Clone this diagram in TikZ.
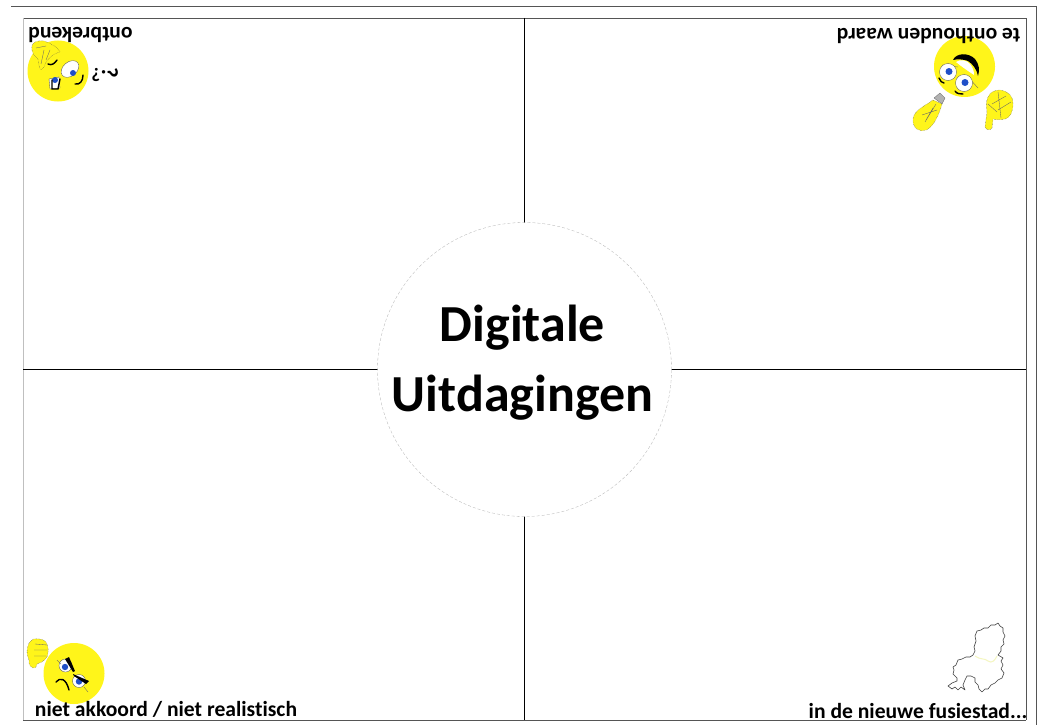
\documentclass[tikz,border=0pt]{standalone}
\usepackage{fontspec}
\setmainfont[Ligatures=CommonOff]{Carlito}
\definecolor{smiley}{HTML}{FFF51A}
\definecolor{eyeblue}{HTML}{1F4FC8}
\definecolor{framegray}{HTML}{555555}
\definecolor{mapyellow}{HTML}{F4F6C0}
\tikzset{
  x=1pt,y=-1pt,
  frameline/.style={draw=framegray,line width=0.9pt},
  axisline/.style={draw=black,line width=0.9pt},
  hubcircle/.style={circle,draw=gray!60,densely dashed,line width=0.3pt,fill=white,minimum size=294pt,inner sep=0pt},
  hubtext/.style={font=\bfseries\fontsize{52}{60}\selectfont,anchor=base,inner sep=0pt},
  cornertext/.style={font=\bfseries\fontsize{21.6}{24}\selectfont,anchor=base,inner sep=0pt},
  face/.style={circle,fill=smiley,minimum size=61pt,inner sep=0pt},
  eyewhite/.style={draw=black!70,line width=0.3pt,fill=white},
  pupil/.style={fill=eyeblue},
  facemark/.style={draw=black,line width=1.4pt,line cap=round},
  handpart/.style={draw=black!70,densely dotted,line width=0.4pt,fill=smiley},
  handline/.style={draw=black!60,line width=0.35pt},
  mapborder/.style={draw=black!75,line width=0.6pt,line join=round},
  qmark/.style={font=\bfseries\fontsize{#1}{#1}\selectfont,inner sep=0pt},
}
\begin{document}
\begin{tikzpicture}
\useasboundingbox (0,0) rectangle (1038,725);
\fill[white] (0,0) rectangle (1038,725);
% frames
\coordinate (ot) at (11,6); \coordinate (otr) at (1036,6); \coordinate (obr) at (1036,725);
\draw[frameline] (ot) -- (otr) -- (obr);
\coordinate (tl) at (23,18); \coordinate (tr) at (1026,18); \coordinate (br) at (1026,720); \coordinate (bl) at (23,720);
\draw[draw=framegray,line width=0.6pt] (tl) -- (tr) -- (br);
\draw[draw=gray!50,line width=0.6pt] (tl) -- (bl);
\draw[frameline] (bl) -- (br);
% axes
\coordinate (vt) at (524,18); \coordinate (vb) at (524,720);
\coordinate (hl) at (23,369); \coordinate (hr) at (1026,369);
\draw[axisline] (vt) -- (vb);
\draw[axisline] (hl) -- (hr);
% hub
\node[hubcircle] (hub) at (524.5,369.5) {};
\node[hubtext] (title1) at (522.5,341) {Digitale};
\node[hubtext] (title2) at (522.5,411) {Uitdagingen};
% top-left face
\node[face] (f1) at (58,71) {};
\draw[eyewhite,rotate around={40:(70,69)}] (70,69) ellipse (10 and 7);
\fill[pupil] (73,73) circle (3);
\path[eyewhite] (49,79) -- (59,77) -- (60,88) -- (50,89) -- cycle;
\fill[pupil] (55,80) circle (3);
\path[handpart] (32,46) .. controls (32,42) and (39,40) .. (44,41) .. controls (50,43) and (58,47) .. (60,52) .. controls (54,53) and (49,58) .. (46,62) .. controls (45,66) and (42,71) .. (40,69) .. controls (38,63) and (39,60) .. (37,58) .. controls (33,55) and (31,50) .. (32,46) -- cycle;
\draw[handline] (44,50) -- (41,64) (50,50) -- (46,60) (36,48) -- (46,46);
\draw[facemark] (48,64) .. controls (52,66) and (55,63) .. (57,60);
\draw[facemark] (52,80) -- (52,89) -- (58,89) -- (60,79);
\draw[facemark] (75,84) .. controls (80,85) and (83,81) .. (83,75);
\node[qmark=19,rotate=180] (q1) at (96,75) {?};
\node[qmark=23,rotate=-90] (q2) at (110,73) {?};
% top-right face
\node[face] (f2) at (964.5,66.5) {};
\path[fill=black] (953,60) .. controls (956,53) and (968,52) .. (975,59) .. controls (979,64) and (980,70) .. (978,76) .. controls (977,70) and (973,64) .. (968,61) .. controls (963,59) and (957,59) .. (953,60) -- cycle;
\path[fill=white] (956,62) .. controls (960,59) and (967,60) .. (970,64) .. controls (973,68) and (974,71) .. (974,75) .. controls (968,71) and (962,67) .. (956,62) -- cycle;
\draw[handline] (942,65) -- (958,67) (968,77) -- (978,88);
\draw[eyewhite] (948,72) circle (8.5);
\fill[pupil] (949,71.5) circle (3.5);
\draw[eyewhite] (964,83) circle (8.5);
\fill[pupil] (965,82.5) circle (3.5);
\draw[facemark] (939,78) .. controls (940,81) and (942,83) .. (944,83);
\draw[facemark] (955,91) .. controls (957,94) and (960,94) .. (963,94);
\path[handpart] (933,100) .. controls (925,106) and (914,110) .. (913,119) .. controls (912,128) and (920,133) .. (926,130) .. controls (932,128) and (938,118) .. (942,104) -- cycle;
\path[fill=gray!60,draw=black!60,line width=0.3pt] (934,98) -- (940,93) -- (945,98) -- (942,104) -- cycle;
\draw[handline] (936,104) -- (925,122) (933,108) -- (926,120) (937,110) -- (922,115);
\path[handpart] (985,127) -- (987,112) .. controls (986,106) and (986,101) .. (988,97) .. controls (990,92) and (995,90) .. (1000,90) .. controls (1008,91) and (1014,97) .. (1013,104) .. controls (1013,112) and (1010,118) .. (1005,119) .. controls (1001,120) and (996,120) .. (993,119) -- (992,128) .. controls (990,131) and (986,130) .. (985,127) -- cycle;
\draw[handline] (998,92) -- (1001,118) (1006,96) -- (992,104) (1011,102) -- (998,110) (988,104) -- (997,112);
% bottom-left face
\node[face] (f3) at (74,673.5) {};
\path[handpart] (27,652) .. controls (27,645) and (30,640) .. (34,639) .. controls (40,638) and (46,640) .. (47,644) .. controls (49,649) and (48,654) .. (47,657) .. controls (44,662) and (39,663) .. (37,664) .. controls (36,667) and (35,669) .. (33,668) .. controls (31,667) and (29,665) .. (29,663) .. controls (30,660) and (27,657) .. (27,652) -- cycle;
\draw[handline] (35,644) -- (47,645) (34,650) -- (47,650) (34,656) -- (46,656);
\draw[eyewhite] (65.5,665.5) circle (6.5);
\fill[pupil] (65,667) circle (3.2);
\draw[eyewhite] (79,681) circle (6.5);
\fill[pupil] (79,681.5) circle (3.2);
\fill[black] (65,659) -- (69,657) -- (75,671) -- (73,672) -- cycle;
\fill[black] (73,674) -- (74,676) -- (86,684) -- (89,681) -- cycle;
\draw[handline] (57,660) -- (61,664) (84,687) -- (88,692);
\draw[facemark] (56,682) .. controls (60,677) and (66,678) .. (69,690);
% map
\draw[mapborder] (977,631) -- (981,630) -- (984,628) -- (988,628) -- (991,625) -- (995,625) -- (998,623) -- (1000,626) -- (1003,628) -- (1003,632) -- (1005,636) -- (1003,640) -- (1004,644) -- (1001,647) -- (1001,651) -- (998,655) -- (1003,658) -- (1001,661) -- (1003,665) -- (1001,669) -- (1004,673) -- (1002,678) -- (998,680) -- (995,683) -- (991,685) -- (988,689) -- (985,689) -- (982,692) -- (979,689) -- (978,685) -- (975,682) -- (975,678) -- (971,676) -- (967,676) -- (965,680) -- (963,685) -- (965,690) -- (961,687) -- (958,690) -- (955,687) -- (952,689) -- (948,686) -- (952,683) -- (957,681) -- (957,678) -- (953,674) -- (954,670) -- (953,667) -- (956,665) -- (958,660) -- (962,659) -- (966,657) -- (970,657) -- (973,655) -- (975,651) -- (974,647) -- (976,641) -- (975,636) -- cycle;
\draw[mapyellow,line width=1pt] (975,656) .. controls (980,660) and (985,658) .. (988,661) .. controls (992,664) and (995,660) .. (997,656);
% corner texts
\node[cornertext,rotate=180] (t1) at (80.5,27.5) {ontbrekend};
\node[cornertext,rotate=180] (t2) at (928.5,29) {te onthouden waard};
\node[cornertext] (t3) at (166,716) {niet akkoord / niet realistisch};
\node[cornertext] (t4) at (918,718) {in de nieuwe fusiestad...};
\end{tikzpicture}
\end{document}
